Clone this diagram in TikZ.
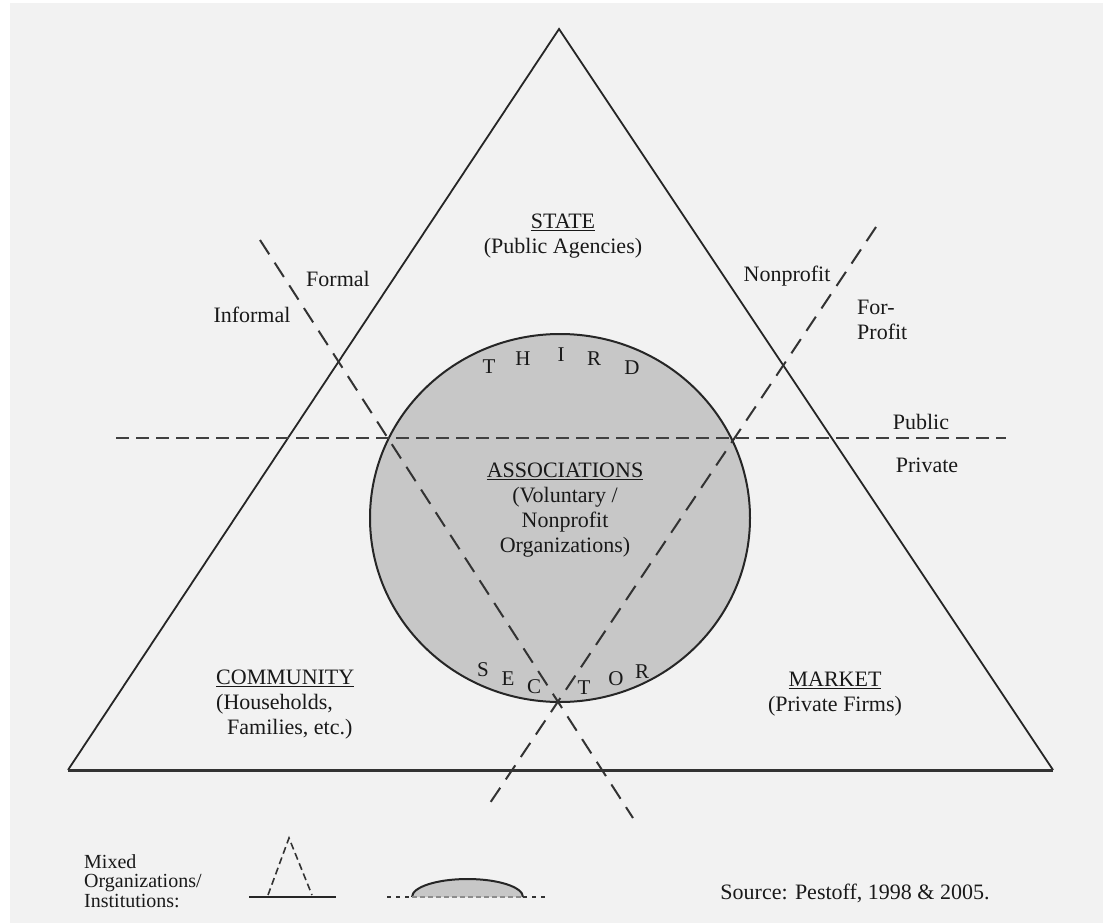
\documentclass[tikz,border=0pt]{standalone}
\usepackage{fontspec}
\setmainfont{Liberation Serif}

\begin{document}
\begin{tikzpicture}
  [x=1pt,y=-1pt,
   every node/.style={inner sep=0pt,text=black!90,font=\fontsize{22}{25}\selectfont},
   divide/.style={draw=black!80,line width=2pt,dash pattern=on 17pt off 10pt},
   level/.style={draw=black!75,line width=2pt,dash pattern=on 13pt off 7pt},
   letter/.style={font=\fontsize{21}{21}\selectfont},
   small/.style={font=\fontsize{20}{19.5}\selectfont,align=left}]
  \useasboundingbox (0,0) rectangle (1103,923);
  \fill[white] (0,0) rectangle (1103,923);
  \fill[black!5] (10,3) rectangle (1103,923);

  % the triangle
  \coordinate (top) at (559,29);
  \coordinate (bl) at (68,770);
  \coordinate (br) at (1053,770);
  \draw[black!85,line width=1.8pt] (bl) -- (top) -- (br);
  \draw[black!80,line width=3pt] (bl) -- (br);

  % third sector
  \draw[black!85,line width=2pt,fill=black!22] (560,518) ellipse [x radius=190,y radius=184];

  % dividing lines
  \coordinate (fa) at (260,240);
  \coordinate (fb) at (633,818);
  \coordinate (pa) at (876,227);
  \coordinate (pb) at (490,803);
  \coordinate (ua) at (116,438);
  \coordinate (ub) at (1006,438);
  \foreach \from/\to in {fa/fb,pa/pb}
    \draw[divide] (\from) -- (\to);
  \draw[level] (ua) -- (ub);

  \node[align=center] (state) at (563,236) {\underline{STATE}\\(Public Agencies)};
  \node (formal) at (338,279) {Formal};
  \node (informal) at (252,315) {Informal};
  \node (nonprofit) at (787,276) {Nonprofit};
  \node[align=left,anchor=west] (forprofit) at (857,320) {For-\\Profit};
  \node (public) at (921,422) {Public};
  \node (private) at (927,465) {Private};
  \node[align=center] (assoc) at (565,510)
    {\underline{ASSOCIATIONS}\\(Voluntary /\\Nonprofit\\Organizations)};
  \node[align=left,anchor=west] (community) at (216,705)
    {\underline{COMMUNITY}\\(Households,\\\hspace*{0.5em}Families, etc.)};
  \node[align=center] (market) at (835,694) {\underline{MARKET}\\(Private Firms)};

  \foreach \ch/\x/\y [count=\i] in {T/489/367,H/523/359,I/561/355,R/594/359,D/632/368}
    \node[letter] (third\i) at (\x,\y) {\ch};
  \foreach \ch/\x/\y [count=\i] in {S/483/670,E/508/679,C/534/687,T/584/688,O/616/679,R/642/672}
    \node[letter] (sector\i) at (\x,\y) {\ch};

  % legend
  \node[small,anchor=west] (mixed) at (84,881) {Mixed\\Organizations/\\Institutions:};
  \coordinate (ltop) at (289,838);
  \coordinate (lleft) at (268,895);
  \coordinate (lright) at (312,895);
  \coordinate (la) at (249,897);
  \coordinate (lb) at (336,897);
  \draw[black!80,line width=1.6pt,dash pattern=on 7pt off 4pt] (lleft) -- (ltop) -- (lright);
  \draw[black!85,line width=2.6pt] (la) -- (lb);

  \coordinate (ea) at (387,897);
  \coordinate (eb) at (412,897);
  \coordinate (ec) at (523,897);
  \coordinate (ed) at (548,897);
  \fill[black!22] (eb) arc [start angle=180,end angle=360,x radius=55.5,y radius=18] -- cycle;
  \draw[black!85,line width=2pt] (eb) arc [start angle=180,end angle=360,x radius=55.5,y radius=18];
  \draw[black!45,line width=1.2pt,dash pattern=on 5pt off 3pt] (eb) -- (ec);
  \foreach \from/\to in {ea/eb,ec/ed}
    \draw[black!80,line width=1.8pt,dash pattern=on 4pt off 5pt] (\from) -- (\to);

  \node (source) at (855,893) {Source: Pestoff, 1998 \& 2005.};
\end{tikzpicture}
\end{document}
